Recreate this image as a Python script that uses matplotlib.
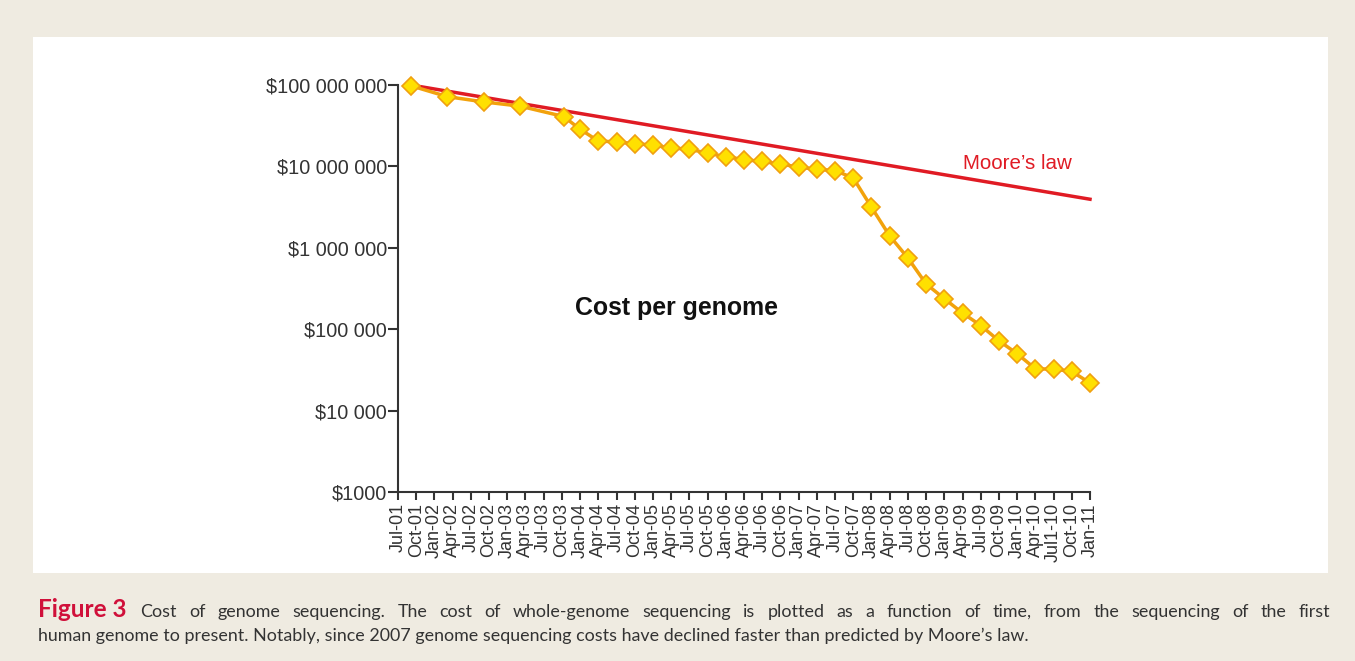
import matplotlib.pyplot as plt
from matplotlib.patches import Rectangle

# x-axis categories (quarters)
tick_labels = ["Jul-01", "Oct-01",
               "Jan-02", "Apr-02", "Jul-02", "Oct-02",
               "Jan-03", "Apr-03", "Jul-03", "Oct-03",
               "Jan-04", "Apr-04", "Jul-04", "Oct-04",
               "Jan-05", "Apr-05", "Jul-05", "Oct-05",
               "Jan-06", "Apr-06", "Jul-06", "Oct-06",
               "Jan-07", "Apr-07", "Jul-07", "Oct-07",
               "Jan-08", "Apr-08", "Jul-08", "Oct-08",
               "Jan-09", "Apr-09", "Jul-09", "Oct-09",
               "Jan-10", "Apr-10", "Jul1-10", "Oct-10", "Jan-11"]

# cost per genome, position in quarters since Jul-01
quarter_pos = [0.7, 2.7, 4.7, 6.7, 9.1,
               10, 11, 12, 13, 14, 15, 16, 17, 18, 19, 20, 21, 22, 23, 24, 25,
               26, 27, 28, 29, 30, 31, 32, 33, 34, 35, 36, 37, 38]
cost = [98e6, 72e6, 62e6, 55e6, 41e6,
        28.6e6, 20.5e6, 20e6, 19e6, 18.3e6, 16.8e6, 16.3e6, 14.5e6, 13.2e6,
        12.1e6, 11.5e6, 10.7e6, 9.8e6, 9.2e6, 8.9e6, 7.2e6,
        3.15e6, 1.4e6, 7.5e5, 3.6e5, 2.37e5, 1.58e5, 1.11e5, 7.2e4, 5.0e4,
        3.26e4, 3.23e4, 3.03e4, 2.18e4]

# Moore's law reference line
moore_pos = [0.7, 38]
moore_cost = [1e8, 3.95e6]

y_ticks = [1e3, 1e4, 1e5, 1e6, 1e7, 1e8]
y_labels = ["$1000", "$10 000", "$100 000", "$1 000 000", "$10 000 000", "$100 000 000"]

caption_1 = ("Cost of genome sequencing. The cost of whole-genome sequencing is plotted "
             "as a function of time, from the sequencing of the first")
caption_2 = ("human genome to present. Notably, since 2007 genome "
             "sequencing costs have declined faster than predicted by Moore\u2019s law.")

plt.rcParams['font.family'] = ['Liberation Sans', 'DejaVu Sans']

fig = plt.figure(figsize=(13.55, 6.61), dpi=100)
fig.patch.set_facecolor("#efebe1")
fig.patches.append(Rectangle((33/1355, 1-573/661), (1328-33)/1355, (573-37)/661,
                             transform=fig.transFigure, facecolor="white",
                             edgecolor="none", zorder=-1))

ax = fig.add_axes([398/1355, 1-492/661, (1090-398)/1355, (492-85)/661])
ax.set_facecolor("none")

ax.plot(moore_pos, moore_cost, color="#e01b24", lw=2.5, zorder=2, clip_on=False)
ax.plot(quarter_pos, cost, color="#f2a20c", lw=2.5, marker="D", markersize=9,
        markerfacecolor="#ffe000", markeredgecolor="#f0a010", markeredgewidth=1.2,
        zorder=3, clip_on=False)

ax.set_yscale("log")
ax.set_ylim(1e3, 1e8)
ax.set_xlim(0, 38)
ax.set_yticks(y_ticks)
ax.set_yticklabels(y_labels)
ax.minorticks_off()
ax.set_xticks(range(len(tick_labels)))
ax.set_xticklabels(tick_labels, rotation=90)

for s in ["top", "right"]:
    ax.spines[s].set_visible(False)
for s in ["left", "bottom"]:
    ax.spines[s].set_color("#333333")
    ax.spines[s].set_linewidth(1.5)
ax.tick_params(axis="y", length=7, width=1.5, color="#333333", labelsize=14.3,
               labelcolor="#333333", pad=1)
ax.tick_params(axis="x", length=6, width=1.5, color="#333333", labelsize=13,
               labelcolor="#333333", pad=2)

ax.text(31, 1.1e7, "Moore\u2019s law", color="#e01b24", fontsize=14.8, va="center")
ax.text(15.3, 1.84e5, "Cost per genome", fontsize=17.9, fontweight="bold",
        ha="center", va="center", color="#111111")

# caption: first line justified between the bold label and the right margin
cap_font = ["Lato", "DejaVu Sans"]
y1 = 1 - 617/661
t1 = fig.text(38/1355, y1, "Figure 3", fontsize=17.5, fontweight="bold",
              color="#d0103a", family=cap_font)
fig.text(38/1355, 1-641/661, caption_2, fontsize=12.9, color="#333333", family=cap_font)

renderer = fig.canvas.get_renderer()
x_start = t1.get_window_extent(renderer).x1 + 14
x_end = 1330
words = [fig.text(0, y1, w, fontsize=12.9, color="#333333", family=cap_font)
         for w in caption_1.split()]
widths = [w.get_window_extent(renderer).width for w in words]
gap = (x_end - x_start - sum(widths)) / (len(words) - 1)
x = x_start
for w, wd in zip(words, widths):
    w.set_x(x / 1355)
    x += wd + gap

fig.savefig("out.png", dpi=100, facecolor=fig.get_facecolor())
